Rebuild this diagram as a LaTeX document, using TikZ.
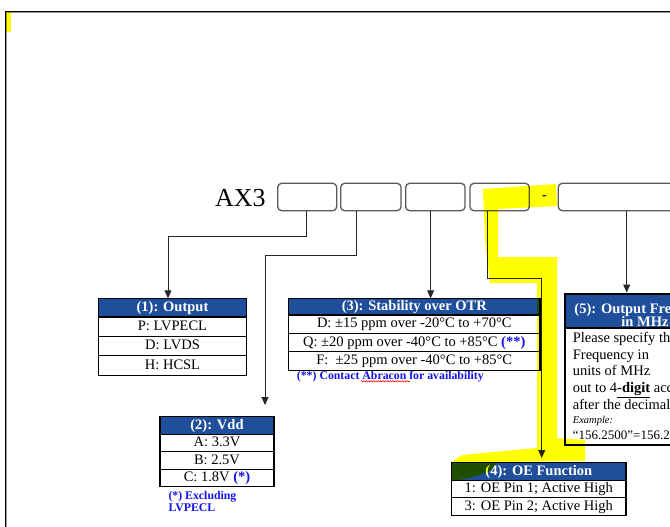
\documentclass[tikz,border=0pt]{standalone}
\usepackage{fontspec}
\setmainfont{Liberation Serif}
\usetikzlibrary{arrows.meta,decorations.pathmorphing}
\definecolor{hdrblue}{RGB}{31,78,155}
\definecolor{noteblue}{RGB}{20,20,230}
\definecolor{hiyel}{RGB}{255,255,0}
\begin{document}
\begin{tikzpicture}[x=1pt,y=-1pt,
  cell/.style={draw=black,line width=1.1pt,inner sep=0pt,outer sep=0pt,anchor=north west,
    font=\fontsize{14.5}{17}\selectfont,text height=10pt,text depth=3pt},
  hdr/.style={cell,fill=hdrblue,text=white,font=\bfseries\fontsize{14.5}{17}\selectfont},
  topbox/.style={draw=black!65,line width=1.3pt,rounded corners=4pt,minimum height=27.4pt,inner sep=0pt,outer sep=0pt},
  conn/.style={draw=black!85,line width=1pt},
  arr/.style={conn,-{Triangle[width=7pt,length=8pt]}},
  note/.style={text=noteblue,font=\bfseries\fontsize{11.8}{13.5}\selectfont,inner sep=0pt,anchor=base west},
  body/.style={inner sep=0pt,anchor=base west,font=\fontsize{14.5}{17}\selectfont},
]
\useasboundingbox (0,0) rectangle (670,527);
\clip (0,0) rectangle (670,527);
\fill[white] (0,0) rectangle (670,527);
% frame
\draw[black,line width=1pt] (5.2,540) -- (5.2,11.5) -- (680,11.5);
\draw[black!40,line width=0.7pt] (6.3,540) -- (6.3,12.7) -- (680,12.7);
% part number
\node[inner sep=0pt,anchor=base west,font=\fontsize{26}{30}\selectfont] (ax) at (215,206.7) {AX3};
\node[topbox,minimum width=59pt] (b1) at (307.2,197) {};
\node[topbox,minimum width=60.3pt] (b2) at (370.85,197) {};
\node[topbox,minimum width=59.3pt] (b3) at (435.35,197) {};
\node[topbox,minimum width=59.3pt] (b4) at (499.65,197) {};
\node[inner sep=0pt,font=\bfseries\fontsize{14}{16}\selectfont] (dash) at (544.5,198) {-};
\node[topbox,minimum width=141.7pt] (b5) at (629.15,197) {};
% (1)
\node[hdr,minimum width=148pt,minimum height=18.7pt] (h1) at (98.5,298.3) {(1): Output};
\node[cell,minimum width=148pt,minimum height=19.4pt] (r1a) at (h1.south west) {P: LVPECL};
\node[cell,minimum width=148pt,minimum height=19.4pt] (r1b) at (r1a.south west) {D: LVDS};
\node[cell,minimum width=148pt,minimum height=19.4pt] (r1c) at (r1b.south west) {H: HCSL};
% (3)
\node[hdr,minimum width=251.5pt,minimum height=16.7pt] (h3) at (288.5,298.3) {(3): Stability over OTR};
\node[cell,minimum width=251.5pt,minimum height=18.4pt] (r3a) at (h3.south west) {D: ±15 ppm over -20°C to +70°C};
\node[cell,minimum width=251.5pt,minimum height=18.4pt] (r3b) at (r3a.south west) {Q: ±20 ppm over -40°C to +85°C \textcolor{noteblue}{\bfseries(**)}};
\node[cell,minimum width=251.5pt,minimum height=18.4pt] (r3c) at (r3b.south west) {F:\ \ ±25 ppm over -40°C to +85°C};
\node[note] (n3) at (296.7,379.3) {(**) Contact Abracon for availability};
\draw[red,line width=0.5pt,decorate,decoration={zigzag,segment length=2.4pt,amplitude=0.7pt}] (361,381.3) -- (410,381.3);
% (2)
\node[hdr,minimum width=114pt,minimum height=17.6pt] (h2) at (160,416.7) {(2): Vdd};
\node[cell,minimum width=114pt,minimum height=17.5pt] (r2a) at (h2.south west) {A: 3.3V};
\node[cell,minimum width=114pt,minimum height=17.5pt] (r2b) at (r2a.south west) {B: 2.5V};
\node[cell,minimum width=114pt,minimum height=17.5pt] (r2c) at (r2b.south west) {C: 1.8V \textcolor{noteblue}{\bfseries(*)}};
\node[note] (n2a) at (168.3,499) {(*) Excluding};
\node[note] (n2b) at (168.3,511.7) {LVPECL};
% (4)
\node[hdr,minimum width=174.3pt,minimum height=18pt] (h4) at (451.7,462.7) {(4): OE Function};
\node[cell,minimum width=174.3pt,minimum height=17.2pt] (r4a) at (h4.south west) {1: OE Pin 1; Active High};
\node[cell,minimum width=174.3pt,minimum height=17.2pt] (r4b) at (r4a.south west) {3: OE Pin 2; Active High};
% (5)
\node[hdr,minimum width=160pt,minimum height=34pt] (h5) at (565,294) {};
\node[inner sep=0pt,text=white,align=center,font=\bfseries\fontsize{14.5}{13.5}\selectfont] (h5t) at ([yshift=-4pt]h5.center) {(5): Output Frequency\\in MHz};
\node[cell,minimum width=160pt,minimum height=117pt] (r5) at (h5.south west) {};
\node[body] (l1) at (572.7,342.3) {Please specify the};
\node[body] (l2) at (572.7,359) {Frequency in};
\node[body] (l3) at (572.7,375.5) {units of MHz};
\node[body] (l4) at (572.7,392.3) {out to 4\textbf{\underline{-digit}} accuracy};
\node[body] (l5) at (572.7,409) {after the decimal point};
\node[body,font=\itshape\fontsize{10.5}{12}\selectfont] (l6) at (572.7,423.3) {Example:};
\node[body,font=\fontsize{13}{15}\selectfont] (l7) at (572.7,439.3) {“156.2500”=156.25MHz};
% connectors
\path ([xshift=-1.2pt]b1.south) coordinate (s1);
\path ([xshift=-14.1pt]b2.south) coordinate (s2);
\path ([xshift=-4.7pt]b3.south) coordinate (s3);
\path ([xshift=-12.4pt]b4.south) coordinate (s4);
\path ([xshift=-2.45pt]b5.south) coordinate (s5);
\coordinate (e2) at (265,405);
\coordinate (e4) at (541.7,458);
\draw[arr] (s1) -- ++(0,26) -| ([xshift=-4.5pt]h1.north);
\draw[arr] (s2) -- ++(0,45) -| (e2);
\draw[arr] (s3) -- (s3 |- h3.north);
\draw[arr] (s4) -- ++(0,67.6) -| (e4);
\draw[arr] (s5) -- ([yshift=1.5pt]s5 |- h5.north);
% highlights
\fill[hiyel,blend mode=multiply] (5.6,12) rectangle (11.3,31.7);
\fill[hiyel,blend mode=multiply] (483,189) -- (556,184) -- (557,206) -- (498,209) -- (498,257)
  -- (557,257) -- (557,438) -- (585,440) -- (585,461) -- (498,462) -- (488,472) -- (470,478) -- (452,481)
  -- (452,462) -- (462,455) -- (537,448) -- (537,283) -- (490,283) -- (485,240) -- cycle;
\end{tikzpicture}
\end{document}
